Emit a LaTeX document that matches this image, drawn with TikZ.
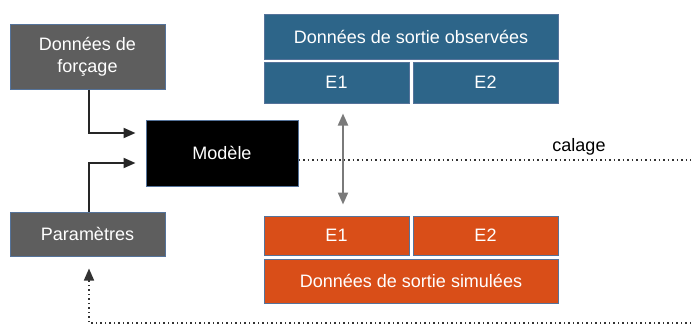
\documentclass[tikz,border=0pt]{standalone}
\usepackage{fontspec}
\setmainfont{Liberation Sans}
\usetikzlibrary{arrows.meta}
\definecolor{boxgray}{HTML}{5E5E5E}
\definecolor{boxblue}{HTML}{2D6589}
\definecolor{boxorange}{HTML}{D94E18}
\definecolor{boxedge}{HTML}{55739A}
\definecolor{arrgray}{HTML}{7A7A7A}
\begin{document}
\begin{tikzpicture}[x=1pt,y=-1pt,
  box/.style={draw=boxedge,line width=1pt,text=white,inner sep=0pt,align=center,
    font=\fontsize{18}{22}\selectfont},
  graybox/.style={box,fill=boxgray,minimum width=155pt},
  bluebox/.style={box,fill=boxblue},
  orangebox/.style={box,fill=boxorange},
  conn/.style={line width=2pt,draw=black!85,-{Triangle[length=12pt,width=10pt]}},
  twoway/.style={line width=2pt,draw=arrgray,{Triangle[length=12pt,width=10pt]}-{Triangle[length=12pt,width=10pt]}},
  dotline/.style={line width=1.6pt,dash pattern=on 1.5pt off 3pt,draw=black!80},
  dotarrow/.style={dotline,-{Triangle[length=12pt,width=10pt]}}
]
\useasboundingbox (0,0) rectangle (691,325);
% left boxes
\node[graybox,minimum height=65pt] (forc) at (87.5,56.5) {Données de\\forçage};
\node[graybox,minimum height=44pt] (param) at (87.5,234) {Paramètres};
\node[box,fill=black,minimum width=152pt,minimum height=66pt] (model) at (222,153) {Modèle};
% observed
\node[bluebox,minimum width=294pt,minimum height=45pt] (obs) at (411,36.5) {Données de sortie observées};
\node[bluebox,minimum width=145pt,minimum height=41pt] (oE1) at (336.5,82.5) {E1};
\node[bluebox,minimum width=145pt,minimum height=41pt] (oE2) at (485.5,82.5) {E2};
% simulated
\node[orangebox,minimum width=145pt,minimum height=39pt] (sE1) at (336.5,235.5) {E1};
\node[orangebox,minimum width=145pt,minimum height=39pt] (sE2) at (485.5,235.5) {E2};
\node[orangebox,minimum width=294pt,minimum height=44pt] (sim) at (411,281) {Données de sortie simulées};
% label
\node[font=\fontsize{18}{22}\selectfont,inner sep=0pt] (cal) at (579,147) {calage};
% free ends
\coordinate (calR) at (691,160);
\coordinate (botR) at (691,323);
% connectors
\draw[conn] ([xshift=1.5pt]forc.south) |- ([xshift=-10pt,yshift=20pt]model.west);
\draw[conn] ([xshift=1.5pt]param.north) |- ([xshift=-10pt,yshift=-10pt]model.west);
\draw[twoway] ([xshift=6.5pt,yshift=-10pt]oE1.south) -- ([xshift=6.5pt,yshift=11pt]sE1.north);
\draw[dotline] ([yshift=-7pt]model.east) -- (calR);
\draw[dotarrow] (botR) -| ([xshift=1.5pt,yshift=-12pt]param.south);
\end{tikzpicture}
\end{document}
